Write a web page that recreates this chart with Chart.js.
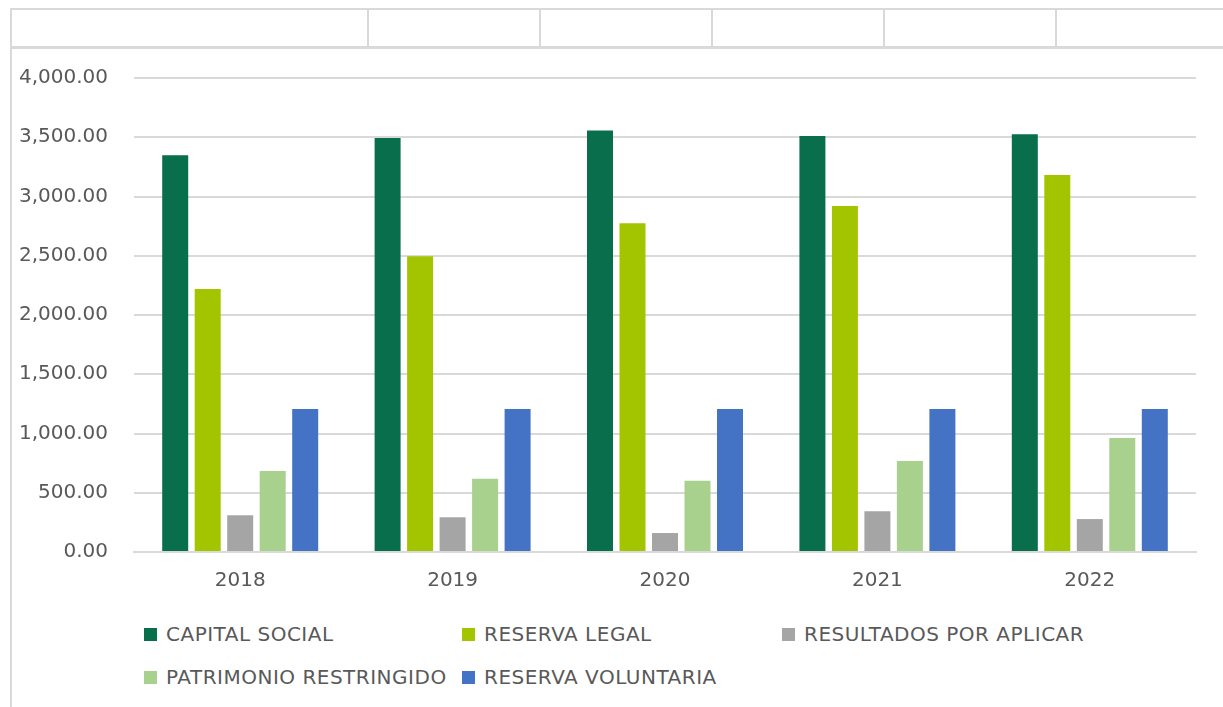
<!DOCTYPE html>
<html>
<head>
<meta charset="utf-8">
<script src="https://cdn.jsdelivr.net/npm/chart.js@4"></script>
<style>
  html, body { margin: 0; padding: 0; background: #fff; }
  body { width: 1223px; height: 707px; position: relative; overflow: hidden; font-family: 'DejaVu Sans', sans-serif; }
  .hline { position: absolute; left: 10px; right: 0; height: 2px; background: #d9d9d9; }
  .vline { position: absolute; width: 2px; background: #d9d9d9; }
  #wrap { position: absolute; left: 0; top: 40px; width: 1223px; height: 562px; }
  #legend { position: absolute; left: 144px; top: 622px; display: grid; grid-template-columns: 318px 320px 320px; row-gap: 19px; }
  .item { display: flex; align-items: center; font-size: 20px; letter-spacing: 0.5px; color: #595959; white-space: nowrap; height: 24px; }
  .box { width: 13px; height: 13px; margin-right: 9px; flex: none; }
</style>
</head>
<body>
<!-- spreadsheet cells above the chart -->
<div class="hline" style="top:8px"></div>
<div class="hline" style="top:46px; height:3px"></div>
<div class="vline" style="left:10px; top:8px; height:699px"></div>
<div class="vline" style="left:367px; top:8px; height:39px"></div>
<div class="vline" style="left:539px; top:8px; height:39px"></div>
<div class="vline" style="left:711px; top:8px; height:39px"></div>
<div class="vline" style="left:883px; top:8px; height:39px"></div>
<div class="vline" style="left:1055px; top:8px; height:39px"></div>

<div id="wrap"><canvas id="chart"></canvas></div>
<div id="legend"></div>

<script>
// ── Data ─────────────────────────────────────────────────────────
const YEARS = ['2018', '2019', '2020', '2021', '2022'];
const CAPITAL_SOCIAL = [3348, 3494, 3558, 3510, 3525];
const RESERVA_LEGAL = [2219, 2495, 2774, 2920, 3181];
const RESULTADOS_POR_APLICAR = [310, 293, 160, 343, 278];
const PATRIMONIO_RESTRINGIDO = [683, 619, 602, 768, 962];
const RESERVA_VOLUNTARIA = [1207, 1207, 1207, 1207, 1207];

const COLORS = {
  capital: '#086e4c',
  legal: '#a3c500',
  resultados: '#a5a5a5',
  patrimonio: '#a9d18e',
  voluntaria: '#4472c4',
};

const FONT = { family: "'DejaVu Sans', sans-serif", size: 20 };
const GRID = '#d9d9d9';

function series(label, data, color) {
  return {
    label, data,
    backgroundColor: color,
    borderWidth: 0,
    categoryPercentage: 0.765,
    barPercentage: 0.8,
  };
}

const chart = new Chart(document.getElementById('chart'), {
  type: 'bar',
  data: {
    labels: YEARS,
    datasets: [
      series('CAPITAL SOCIAL', CAPITAL_SOCIAL, COLORS.capital),
      series('RESERVA LEGAL', RESERVA_LEGAL, COLORS.legal),
      series('RESULTADOS POR APLICAR', RESULTADOS_POR_APLICAR, COLORS.resultados),
      series('PATRIMONIO RESTRINGIDO', PATRIMONIO_RESTRINGIDO, COLORS.patrimonio),
      series('RESERVA VOLUNTARIA', RESERVA_VOLUNTARIA, COLORS.voluntaria),
    ]
  },
  options: {
    responsive: true,
    maintainAspectRatio: false,
    animation: false,
    layout: { padding: { top: 17, right: 27, bottom: 0, left: 0 } },
    plugins: {
      legend: { display: false },
      tooltip: { enabled: false },
    },
    scales: {
      x: {
        grid: { display: false, drawTicks: false },
        border: { color: GRID, width: 2 },
        ticks: { color: '#595959', font: FONT, padding: 17, maxRotation: 0 },
        afterFit: (s) => { s.height = 50; },
      },
      y: {
        min: 0,
        max: 4000,
        grid: { color: GRID, lineWidth: 2, drawTicks: false },
        border: { display: false },
        ticks: {
          stepSize: 500,
          color: '#595959',
          font: FONT,
          padding: 26,
          callback: (v) => v.toLocaleString('en-US', { minimumFractionDigits: 2, maximumFractionDigits: 2 }),
        },
        afterFit: (s) => { s.width = 134; },
      },
    },
  },
});

// ── Legend (column-aligned like the spreadsheet version) ─────────
const legendEl = document.getElementById('legend');
chart.data.datasets.forEach(ds => {
  const item = document.createElement('div');
  item.className = 'item';
  const box = document.createElement('span');
  box.className = 'box';
  box.style.background = ds.backgroundColor;
  item.appendChild(box);
  item.appendChild(document.createTextNode(ds.label));
  legendEl.appendChild(item);
});
</script>
</body>
</html>
